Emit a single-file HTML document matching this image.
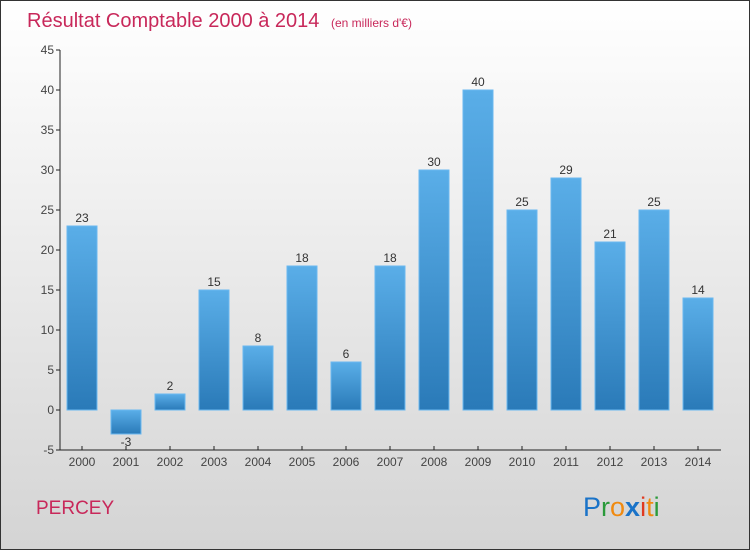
<!DOCTYPE html>
<html><head><meta charset="utf-8"><style>
body{margin:0}
#c{width:750px;height:550px;position:relative;font-family:"Liberation Sans",sans-serif;}
</style></head><body>
<div id="c">
<svg width="750" height="550" xmlns="http://www.w3.org/2000/svg" id="svg">
<defs>
<linearGradient id="bg" x1="0" y1="0" x2="0" y2="1"><stop offset="0" stop-color="#ffffff"/><stop offset="1" stop-color="#d4d4d4"/></linearGradient>
<linearGradient id="bar" x1="0" y1="0" x2="0" y2="1"><stop offset="0" stop-color="#5aaee8"/><stop offset="1" stop-color="#2a7ab8"/></linearGradient>
</defs>
<rect x="0.5" y="0.5" width="749" height="549" fill="url(#bg)" stroke="#333"/>
<text x="27" y="27" font-size="20" fill="#c8285a">Résultat Comptable 2000 à 2014 <tspan font-size="12" dx="6">(en milliers d'€)</tspan></text>
<g id="plot"></g>
<text x="36" y="514" font-size="19" fill="#c8285a">PERCEY</text>
<text x="583" y="516" font-size="27"><tspan fill="#1a73c8">P</tspan><tspan fill="#2a9a3a">r</tspan><tspan fill="#f08a10">o</tspan><tspan fill="#1a73c8" font-weight="bold">x</tspan><tspan fill="#e03a20">i</tspan><tspan fill="#f08a10">t</tspan><tspan fill="#2a9a3a">i</tspan></text>
</svg>
</div>
<script>
const years=["2000","2001","2002","2003","2004","2005","2006","2007","2008","2009","2010","2011","2012","2013","2014"];
const values=[23,-3,2,15,8,18,6,18,30,40,25,29,21,25,14];
const yTicks=[-5,0,5,10,15,20,25,30,35,40,45];
const NS="http://www.w3.org/2000/svg";
const g=document.getElementById('plot');
const y=v=>410-(v)*8;
const x=i=>82+i*44;
function el(t,a){const e=document.createElementNS(NS,t);for(const k in a)e.setAttribute(k,a[k]);g.appendChild(e);return e;}
yTicks.forEach(t=>{
 const l=el('line',{x1:56,x2:60,y1:y(t),y2:y(t),stroke:'#222'});
 
 
 const tx=el('text',{x:54,y:y(t)+4,'text-anchor':'end','font-size':12,fill:'#444'});
 tx.textContent=t;
 
 
});
values.forEach((v,i)=>{
 const top=Math.min(y(v),y(0)),h=Math.abs(y(v)-y(0));
 const r=el('rect',{x:x(i)-15,y:top,width:30,height:h,fill:'url(#bar)',stroke:'#6ab8f0','stroke-width':1});
 
 
 const lt=el('text',{x:x(i),y:v>=0?y(v)-4:y(v)+12,'text-anchor':'middle','font-size':12,fill:'#333'});
 lt.textContent=v;
 
 
 const tk=el('line',{x1:x(i),x2:x(i),y1:446,y2:450,stroke:'#222'});
 
 
 const xl=el('text',{x:x(i),y:466,'text-anchor':'middle','font-size':12,fill:'#444'});
 xl.textContent=years[i];
 
 
});
const ya=el('line',{x1:60,x2:60,y1:50,y2:450,stroke:'#222'});


const xa=el('line',{x1:60,x2:721,y1:450,y2:450,stroke:'#222'});


</script>
</body></html>
